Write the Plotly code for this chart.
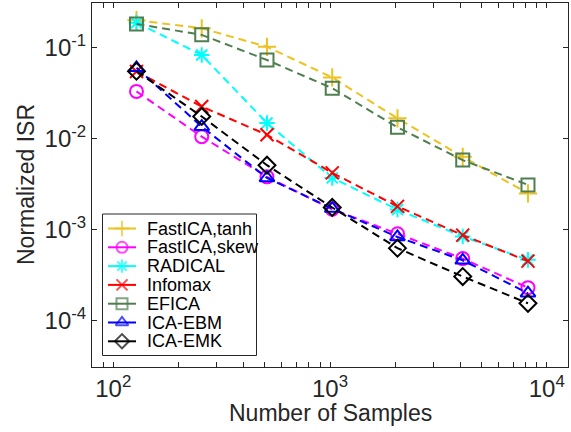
import plotly.graph_objects as go

# Number of samples (x) and normalized ISR for each algorithm
samples = [128, 256, 512, 1024, 2048, 4096, 8192]

fastica_tanh = [0.200, 0.163, 0.102, 0.047, 0.0167, 0.0063, 0.0025]
fastica_skew = [0.033, 0.0105, 0.0038, 0.00167, 0.00090, 0.00048, 0.00023]
radical = [0.188, 0.083, 0.0148, 0.0037, 0.00166, 0.00084, 0.000465]
infomax = [0.0545, 0.0225, 0.0110, 0.0042, 0.00180, 0.00087, 0.00045]
efica = [0.182, 0.138, 0.073, 0.0358, 0.0133, 0.0058, 0.0031]
ica_ebm = [0.060, 0.0135, 0.0037, 0.00170, 0.00083, 0.00046, 0.00020]
ica_emk = [0.055, 0.0175, 0.0051, 0.00175, 0.000625, 0.000305, 0.000155]

series = [
    ("FastICA,tanh", fastica_tanh, "#EDC21F", "cross-thin-open"),
    ("FastICA,skew", fastica_skew, "#FF00FF", "circle-open"),
    ("RADICAL", radical, "#00FFFF", "asterisk-open"),
    ("Infomax", infomax, "#FF0000", "x-thin-open"),
    ("EFICA", efica, "#4F7F50", "square-open"),
    ("ICA-EBM", ica_ebm, "#0000FF", "triangle-up-open"),
    ("ICA-EMK", ica_emk, "#000000", "diamond-open"),
]

W, H = 571, 432
L, R, T, B = 92, 3, 3, 65
pw, ph = W - L - R, H - T - B


def fx(px):
    return (px - L) / pw


def fy(py):
    return (H - B - py) / ph


DASH = "8px,5px"

fig = go.Figure()
for name, vals, color, symbol in series:
    fig.add_trace(go.Scatter(
        x=samples, y=vals, name=name, mode="lines+markers", showlegend=False,
        line=dict(color=color, width=2, dash=DASH),
        marker=dict(symbol=symbol, size=13, color=color,
                    line=dict(color=color, width=2)),
    ))

# hand drawn legend (MATLAB style, tight rows)
box_l, box_r, box_t, box_b = 102.5, 256.5, 214, 355.5
row_y0, row_dy = 228.5, 18.8
fig.add_shape(type="rect", xref="paper", yref="paper",
              x0=fx(box_l), x1=fx(box_r), y0=fy(box_b), y1=fy(box_t),
              line=dict(color="#262626", width=1), fillcolor="white", layer="below")
for i, (name, vals, color, symbol) in enumerate(series):
    yy = fy(row_y0 + i * row_dy)
    fig.add_trace(go.Scatter(
        x=[fx(108), fx(122), fx(136)], y=[yy, yy, yy], xaxis="x2", yaxis="y2",
        mode="lines+markers", showlegend=False, hoverinfo="skip",
        line=dict(color=color, width=2),
        marker=dict(symbol=symbol, size=[0, 11, 0], color=color,
                    line=dict(color=color, width=2)),
    ))
    fig.add_annotation(x=fx(145), y=yy, xref="paper", yref="paper", text=name,
                       showarrow=False, xanchor="left", yanchor="middle",
                       font=dict(size=18, color="#000000"))

# x ticks: decades labelled, minor ticks unlabelled
xtickvals = []
xticktext = []
for e in [1, 2, 3]:
    for m in range(1, 10):
        v = m * 10 ** e
        if 80 <= v <= 12500:
            xtickvals.append(v)
            xticktext.append(f"10<sup>{e}</sup>" if m == 1 else "")
xtickvals.append(10000)
xticktext.append("10<sup>4</sup>")

ytickvals = [1e-4, 1e-3, 1e-2, 1e-1]
yticktext = ["10<sup>-4</sup>", "10<sup>-3</sup>", "10<sup>-2</sup>", "10<sup>-1</sup>"]

axis_style = dict(
    showline=True, linecolor="#262626", linewidth=1, mirror="ticks",
    ticks="inside", ticklen=5, tickcolor="#262626", showgrid=False,
    zeroline=False, automargin=False, tickfont=dict(size=24, color="#262626"),
)

fig.update_xaxes(type="log", range=[1.902, 4.098], tickvals=xtickvals,
                 ticktext=xticktext, **axis_style)
fig.update_yaxes(type="log", range=[-4.51, -0.51], tickvals=ytickvals,
                 ticktext=yticktext, **axis_style)

fig.update_layout(
    xaxis2=dict(overlaying="x", range=[0, 1], visible=False, fixedrange=True),
    yaxis2=dict(overlaying="y", range=[0, 1], visible=False, fixedrange=True),
)

fig.add_annotation(x=0.5, y=fy(413), xref="paper", yref="paper",
                   text="Number of Samples", showarrow=False,
                   xanchor="center", yanchor="middle",
                   font=dict(size=23, color="#262626"))
fig.add_annotation(x=fx(26), y=fy(185), xref="paper", yref="paper",
                   text="Normalized ISR", showarrow=False, textangle=-90,
                   xanchor="center", yanchor="middle",
                   font=dict(size=23, color="#262626"))

fig.update_layout(
    width=W, height=H,
    margin=dict(l=L, r=R, t=T, b=B),
    plot_bgcolor="white", paper_bgcolor="white",
    font=dict(family="Liberation Sans, Arial, sans-serif", color="#262626"),
    showlegend=False,
)

# drop the browser's default body margin so the figure sits at 0,0
fig.write_html("out.html", config={"displayModeBar": False},
               post_script="document.body.style.margin='0';")
